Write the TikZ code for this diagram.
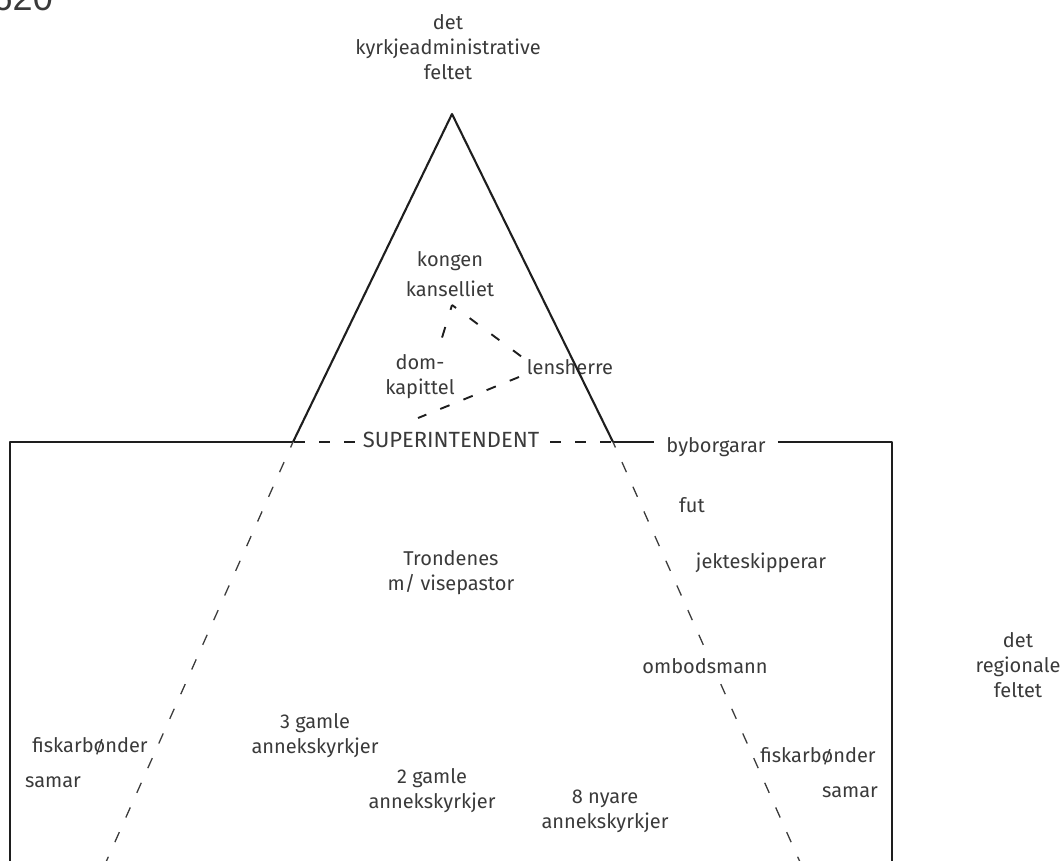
\documentclass[tikz,border=0pt]{standalone}
\usepackage{fontspec}
\setmainfont{Fira Sans}
\newfontfamily\numfont{Liberation Sans}
\usetikzlibrary{arrows.meta}
\definecolor{txt}{HTML}{3A3A3A}
\definecolor{ln}{HTML}{1E1E1E}
\definecolor{lnlight}{HTML}{3C3C3C}
\begin{document}
\begin{tikzpicture}[x=1pt,y=-1pt,line join=round,
  lbl/.style={font=\fontsize{20}{25}\selectfont, text=txt, align=center, inner sep=0pt},
  solidln/.style={line width=2.1pt, draw=ln},
  innerdash/.style={line width=1.9pt, draw=ln},
  lowerdash/.style={line width=1.3pt, draw=lnlight, dash pattern=on 11pt off 16pt, dash phase=5pt},
  supdash/.style={line width=2pt, draw=ln}]
\useasboundingbox (0,0) rectangle (1064,860);
\clip (0,0) rectangle (1064,860);

% number at top left (mostly cut off)
\node[anchor=base east, inner sep=0pt, font=\numfont\fontsize{36}{36}\selectfont, text=txt] (year) at (53,10) {1620};

% coordinates of the frame
\coordinate (apex) at (452,114);
\coordinate (lb) at (293,442);
\coordinate (rb) at (613,442);
\coordinate (tl) at (10,442);
\coordinate (bl) at (10,875);
\coordinate (tr) at (892,442);
\coordinate (br) at (892,875);
\coordinate (lbe) at (98,880);
\coordinate (rbe) at (808,880);

% labels
\node[lbl] (adm) at (448,47) {det\\kyrkjeadministrative\\feltet};
\node[lbl] (kongen) at (450,261.5) {kongen};
\node[lbl] (kans) at (450,289) {kanselliet};
\node[lbl] (dom) at (420,377) {dom-\\kapittel};
\node[lbl] (lens) at (570,367) {lensherre};
\node[lbl, font=\fontsize{22}{25}\selectfont] (sup) at (451,440) {SUPERINTENDENT};
\node[lbl, inner xsep=12pt] (byb) at (716,447.5) {byborgarar};
\node[lbl] (fut) at (692,505) {fut};
\node[lbl] (jekt) at (761,562.5) {jekteskipperar};
\node[lbl] (trond) at (451,573) {Trondenes\\m/ visepastor};
\node[lbl] (reg) at (1018,665) {det\\regionale\\feltet};
\node[lbl] (g3) at (315,736) {3 gamle\\annekskyrkjer};
\node[lbl] (fiskl) at (90,746) {fiskarbønder};
\node[lbl] (saml) at (53,782.5) {samar};
\node[lbl] (g2) at (432,791) {2 gamle\\annekskyrkjer};
\node[lbl] (n8) at (605,811) {8 nyare\\annekskyrkjer};
\node[lbl] (fiskr) at (818,756) {fiskarbønder};
\node[lbl] (samr) at (850,792) {samar};

% triangle and frame
\draw[solidln] (lb) -- (apex) -- (rb);
\draw[solidln] (bl) -- (tl) -- (lb);
\draw[solidln] (rb) -- (byb.west |- rb);
\draw[solidln] (byb.east |- tr) -- (tr) -- (br);

% dashed base of the triangle around SUPERINTENDENT
\coordinate (supw) at ([xshift=-2pt]sup.west);
\coordinate (supe) at ([xshift=2pt]sup.east);
\draw[supdash, dash pattern=on 11pt off 14pt, dash phase=19pt] (supw |- lb) -- (lb);
\draw[supdash, dash pattern=on 11pt off 14pt, dash phase=16pt] (supe |- rb) -- (rb);

% dashed continuation of the triangle sides
\draw[lowerdash] (lb) -- (lbe);
\draw[lowerdash] (rb) -- (rbe);

% label drawn over the dashed line (it hides one dash)
\node[lbl, fill=white, inner xsep=1pt, inner ysep=2pt] (omb) at (705,666) {ombodsmann};

% inner dashed triangle
\coordinate (kt) at (452,305);
\coordinate (de) at (441,341);
\coordinate (le1) at (522,357);
\coordinate (le2) at (519,377);
\coordinate (se) at (418,418);
\draw[innerdash, dash pattern=on 11pt off 18pt, dash phase=6pt] (kt) -- (de);
\draw[innerdash, dash pattern=on 10pt off 17pt, dash phase=5pt] (kt) -- (le1);
\draw[innerdash, dash pattern=on 10pt off 15pt] (le2) -- (se);
\end{tikzpicture}
\end{document}
